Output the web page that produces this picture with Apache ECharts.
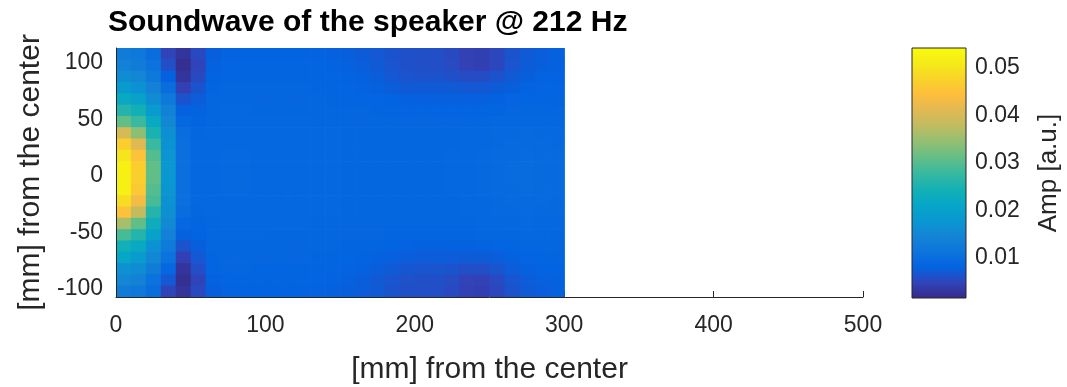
<!DOCTYPE html>
<html><head><meta charset="utf-8">
<script src="https://cdn.jsdelivr.net/npm/echarts@6/dist/echarts.min.js"></script>
<style>html,body{margin:0;padding:0;background:#fff}#c{width:1067px;height:387px}</style>
</head><body><div id="c"></div>
<script>
const chartTitle = 'Soundwave of the speaker @ 212 Hz';
const xName = '[mm] from the center';
const yName = '[mm] from the center';
const cbName = 'Amp [a.u.]';
// cell centres of the measured grid, mm
const xCenters = [5,15,25,35,45,55,65,75,85,95,105,115,125,135,145,155,165,175,185,195,205,215,225,235,245,255,265,275,285,295];
const yCenters = [108,98,88,78,68,58,48,38,28,18,8,-2,-12,-22,-32,-42,-52,-62,-72,-82,-92,-102];
// amplitude in thousandths of a.u., rows top -> bottom, columns left -> right
const ampMilli = [
[13,12,10,5,3,5.5, 7.8,8.2,8.2,8.2,8.2,8.2,8.2,8.2,8,7.8,7.4,7,6.5,6.2,6.2,6,5.5,4.6,4.4,5.3,6.5,7.2,7.7,8],
[14,13,11,6,2.2,5, 8,8.4,8.5,8.5,8.5,8.5,8.5,8.4,8.2,8,7.7,7.2,6.6,6.2,6,6,5.6,4.7,4.4,5.3,6.6,7.4,7.8,8],
[16,15,12,8,3,5.5, 8.3,8.6,8.6,8.6,8.6,8.6,8.6,8.5,8.4,8.2,8,7.6,7,6.6,6.4,6.4,6.2,5.8,5.8,6.4,7.2,7.8,8.2,8.2],
[19,17,14,10,4.5,6.5, 8.5,8.8,8.8,8.7,8.7,8.7,8.7,8.6,8.5,8.4,8.2,8,7.6,7.3,7.2,7.2,7.2,7,7,7.4,7.8,8.2,8.4,8.4],
[22,20,16,12,6.5,7.5, 8.7,8.9,8.9,8.8,8.8,8.8,8.8,8.7,8.6,8.6,8.5,8.4,8.2,8,7.9,7.9,7.9,7.9,7.9,8.1,8.4,8.6,8.6,8.6],
[26,24,19,14,8,8.2, 8.8,9,9,8.9,8.9,8.9,8.9,8.8,8.8,8.7,8.7,8.6,8.5,8.4,8.4,8.4,8.4,8.4,8.5,8.6,8.8,8.9,8.9,8.8],
[31,28,22,15,9,8.6, 8.9,9.1,9.1,9,9,9,9,8.9,8.9,8.8,8.8,8.8,8.7,8.7,8.7,8.7,8.7,8.8,8.9,9,9.1,9.1,9.1,9],
[40,34,25,16.5,10,8.8, 9.1,9.1,9.1,9.1,9.1,9.1,9.1,9,9,8.9,8.9,8.9,8.9,8.9,8.9,8.9,8.9,9,9.1,9.2,9.3,9.4,9.3,9.2],
[47,41,28,17,10.5,9, 9.1,9.1,9.1,9.1,9.1,9.1,9.1,9,9,8.9,8.9,8.9,8.9,8.9,8.9,8.9,8.9,9,9.1,9.3,9.5,9.6,9.5,9.3],
[50,45,30,17.5,10.5,9, 9.1,9.2,9.2,9.1,9.1,9.1,9.1,9,9,8.9,8.9,8.9,8.9,8.9,8.9,8.9,9,9.1,9.2,9.4,9.6,9.7,9.6,9.4],
[52,47,31,18,10.5,9, 9.1,9.2,9.2,9.1,9.1,9.1,9.1,9,9,8.9,8.9,8.9,8.9,8.9,8.9,8.9,9,9.1,9.3,9.5,9.7,9.8,9.6,9.4],
[52,47,31,18,10.5,9, 9.1,9.2,9.2,9.1,9.1,9.1,9.1,9,9,8.9,8.9,8.9,8.9,8.9,8.9,8.9,9,9.1,9.3,9.5,9.7,9.8,9.6,9.4],
[52,46,30,17.5,10.5,9, 9.1,9.2,9.2,9.1,9.1,9.1,9.1,9,9,8.9,8.9,8.9,8.9,8.9,8.9,8.9,9,9.1,9.2,9.4,9.6,9.7,9.6,9.4],
[49,43,29,17,10.5,9, 9.1,9.1,9.1,9.1,9.1,9.1,9.1,9,9,8.9,8.9,8.9,8.9,8.9,8.9,8.9,8.9,9,9.1,9.3,9.5,9.6,9.5,9.3],
[45,38,26,16.5,10,8.8, 9.1,9.1,9.1,9.1,9.1,9.1,9.1,9,9,8.9,8.9,8.9,8.9,8.9,8.9,8.9,8.9,9,9.1,9.2,9.3,9.4,9.3,9.2],
[36,31,23,15.5,9,8.6, 8.9,9.1,9.1,9,9,9,9,8.9,8.9,8.8,8.8,8.8,8.8,8.8,8.8,8.8,8.8,8.9,9,9.1,9.1,9.2,9.1,9],
[29,26,20,14,8,8.2, 8.8,9,9,9,8.9,8.9,8.9,8.8,8.8,8.7,8.7,8.7,8.6,8.5,8.5,8.5,8.5,8.6,8.7,8.8,8.9,9,9,8.9],
[24,22,17,12.5,6.5,7.8, 8.7,8.9,8.9,8.9,8.8,8.8,8.8,8.7,8.7,8.6,8.6,8.5,8.3,8.2,8.1,8.1,8.1,8.1,8.2,8.4,8.6,8.7,8.7,8.7],
[21,19,15,11,4.5,7, 8.6,8.8,8.8,8.8,8.7,8.7,8.7,8.6,8.5,8.5,8.3,8.1,7.9,7.7,7.5,7.5,7.5,7.4,7.4,7.7,8.1,8.4,8.5,8.5],
[17,16,13,9,3,6, 8.4,8.7,8.7,8.6,8.6,8.6,8.6,8.5,8.4,8.2,8,7.7,7.2,6.9,6.7,6.7,6.5,6.1,6.1,6.7,7.5,8,8.2,8.3],
[15,14,11,7,2.2,5, 8.1,8.4,8.5,8.5,8.5,8.5,8.5,8.4,8.2,8,7.7,7.3,6.7,6.3,6.1,6.1,5.7,4.9,4.7,5.6,6.8,7.5,7.9,8],
[13,12,10,5,3,5.5, 7.8,8.2,8.3,8.3,8.3,8.3,8.3,8.2,8,7.8,7.5,7.1,6.5,6.2,6.1,6,5.5,4.6,4.4,5.3,6.5,7.3,7.7,8]
];
const xTicks = [0,100,200,300,400,500];
const yTicks = [-100,-50,0,50,100];
const cbTicks = [0.01,0.02,0.03,0.04,0.05];
const ampRange = [0.0016, 0.0542];
const parula = ['#352a87','#3243b9','#0363e1','#0d75dc','#1485d4','#0998d1','#06a7c6','#15b1b4','#38b99e','#65be86','#92bf73','#c0bc60','#e1b952','#fdbe3d','#f9d329','#f5eb18','#f9fb0e'];

const heatData = [];
yCenters.forEach((y, i) => xCenters.forEach((x, j) => heatData.push([x, y, ampMilli[i][j] / 1000])));
const dx = xCenters[1] - xCenters[0];
const dy = yCenters[0] - yCenters[1];

const font = '"Liberation Sans", Arial, Helvetica, sans-serif';
const ink = '#262626';
const chart = echarts.init(document.getElementById('c'), null, {renderer: 'canvas'});
chart.setOption({
  animation: false,
  backgroundColor: '#ffffff',
  title: {text: chartTitle, left: 108, top: 8, padding: 0,
    textStyle: {fontFamily: font, fontSize: 30, fontWeight: 'bold', color: '#000'}},
  grid: [
    {left: 116, top: 48, width: 747, height: 249, outerBoundsMode: 'none'},
    {left: 912, top: 48, width: 54, height: 250, outerBoundsMode: 'none'}
  ],
  xAxis: [
    {gridIndex: 0, type: 'value', min: 0, max: 500, interval: 100,
      axisLine: {show: true, onZero: false, lineStyle: {color: ink, width: 1}},
      axisTick: {show: true, inside: true, length: 6, lineStyle: {color: ink}, customValues: xTicks},
      axisLabel: {fontFamily: font, fontSize: 23, color: ink, margin: 17, customValues: xTicks},
      splitLine: {show: false},
      name: xName, nameLocation: 'middle', nameGap: 58,
      nameTextStyle: {fontFamily: font, fontSize: 30, color: ink}},
    {gridIndex: 1, type: 'value', min: 0, max: 1, show: false}
  ],
  yAxis: [
    {gridIndex: 0, type: 'value', min: -107, max: 113, z: 3,
      axisLine: {show: true, onZero: false, lineStyle: {color: ink, width: 1}},
      axisTick: {show: false},
      axisLabel: {fontFamily: font, fontSize: 23, color: ink, margin: 13, customValues: yTicks},
      splitLine: {show: false},
      name: yName, nameLocation: 'middle', nameGap: 70,
      nameTextStyle: {fontFamily: font, fontSize: 30, color: ink}},
    {gridIndex: 1, type: 'value', position: 'right', min: ampRange[0], max: ampRange[1],
      axisLine: {show: false}, axisTick: {show: false}, splitLine: {show: false},
      axisLabel: {fontFamily: font, fontSize: 23, color: ink, margin: 9, customValues: cbTicks,
        formatter: v => v.toFixed(2)},
      name: cbName, nameLocation: 'middle', nameGap: 70,
      nameTextStyle: {fontFamily: font, fontSize: 26, color: ink}}
  ],
  visualMap: {show: false, type: 'continuous', min: ampRange[0], max: ampRange[1],
    dimension: 2, seriesIndex: 0, inRange: {color: parula}},
  series: [
    {type: 'custom', xAxisIndex: 0, yAxisIndex: 0, data: heatData, encode: {x: 0, y: 1},
      renderItem: (params, api) => {
        const x = api.value(0), y = api.value(1);
        const p0 = api.coord([x - dx / 2, y + dy / 2]);
        const p1 = api.coord([x + dx / 2, y - dy / 2]);
        const cs = params.coordSys;
        const r = echarts.graphic.clipRectByRect(
          {x: p0[0], y: p0[1], width: p1[0] - p0[0] + 0.7, height: p1[1] - p0[1] + 0.7},
          {x: cs.x, y: cs.y, width: cs.width, height: cs.height});
        return r && {type: 'rect', shape: r, style: {fill: api.visual('color'), stroke: null}};
      }},
    {type: 'custom', xAxisIndex: 1, yAxisIndex: 1, data: [ampRange], encode: {y: [0, 1]},
      renderItem: (params, api) => {
        const lo = api.coord([0, api.value(0)]);
        const hi = api.coord([1, api.value(1)]);
        return {type: 'rect',
          shape: {x: lo[0], y: hi[1], width: hi[0] - lo[0], height: lo[1] - hi[1]},
          style: {fill: new echarts.graphic.LinearGradient(0, 1, 0, 0,
            parula.map((c, i) => ({offset: i / (parula.length - 1), color: c}))),
            stroke: ink, lineWidth: 1}};
      }}
  ]
});
</script></body></html>
